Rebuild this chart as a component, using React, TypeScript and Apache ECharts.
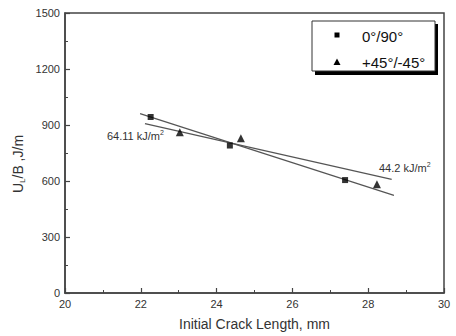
import React, { useEffect, useRef } from "react";
import * as echarts from "echarts";

const seriesNames = ["0°/90°", "+45°/-45°"];
const squareData: [number, number][] = [[22.26, 943], [24.35, 790], [27.39, 605]];
const triangleData: [number, number][] = [[23.03, 861], [24.64, 829], [28.23, 583]];
const squareFit: [number, number][] = [[21.98, 961], [28.68, 523]];
const triangleFit: [number, number][] = [[22.11, 907], [28.62, 609]];
const slopeLabels = ["64.11 kJ/m", "44.2 kJ/m"];
const xTitle = "Initial Crack Length, mm";

export default function App() {
  const ref = useRef<HTMLDivElement>(null);
  useEffect(() => {
    if (!ref.current) return;
    const chart = echarts.init(ref.current, undefined, { renderer: "svg" });
    const font = "'Liberation Sans'";
    const axisColor = "#444";
    const textColor = "#333";
    const common = {
      axisLine: { show: true, lineStyle: { color: axisColor, width: 1.5 } },
      axisTick: { show: true, inside: true, length: 5, lineStyle: { color: axisColor, width: 1.2 } },
      minorTick: { show: true, splitNumber: 2, length: 3, lineStyle: { color: axisColor, width: 1 } },
      splitLine: { show: false },
      axisLabel: { color: textColor, fontSize: 11, fontFamily: font, margin: 5, formatter: (v: number) => String(v) },
    };
    chart.setOption({
      animation: false,
      grid: { left: 65, right: 12, top: 13, bottom: 42, show: true, borderColor: axisColor, borderWidth: 1.5, backgroundColor: "transparent" },
      xAxis: {
        type: "value", min: 20, max: 30, interval: 2,
        ...common,
        name: xTitle, nameLocation: "middle", nameGap: 24,
        nameTextStyle: { color: textColor, fontSize: 14, fontFamily: font },
      },
      yAxis: {
        type: "value", min: 0, max: 1500, interval: 300,
        ...common,
      },
      series: [
        { name: seriesNames[0], type: "scatter", data: squareData, symbol: "rect", symbolSize: 6, itemStyle: { color: "#000" }, z: 5 },
        { name: seriesNames[1], type: "scatter", data: triangleData, symbol: "triangle", symbolSize: 8, itemStyle: { color: "#000" }, z: 5 },
        { type: "line", data: squareFit, symbol: "none", lineStyle: { color: "#555", width: 1.2 } },
        { type: "line", data: triangleFit, symbol: "none", lineStyle: { color: "#555", width: 1.2 } },
      ],
      graphic: [
        {
          type: "text", x: 18, y: 164, rotation: Math.PI / 2,
          style: {
            text: "{n|U}{s|L}{n|/B ,J/m}", align: "center", verticalAlign: "middle",
            rich: {
              n: { fontSize: 14, fontFamily: font, fill: textColor },
              s: { fontSize: 8, fontFamily: font, fill: textColor, padding: [8, 0, 0, 0] },
            },
          },
        },
        {
          type: "text", x: 107, y: 136,
          style: {
            text: `{n|${slopeLabels[0]}}{s|2}`, verticalAlign: "middle",
            rich: {
              n: { fontSize: 11, fontFamily: font, fill: textColor },
              s: { fontSize: 7, fontFamily: font, fill: textColor, padding: [0, 0, 7, 0] },
            },
          },
        },
        {
          type: "text", x: 379, y: 168,
          style: {
            text: `{n|${slopeLabels[1]}}{s|2}`, verticalAlign: "middle",
            rich: {
              n: { fontSize: 11, fontFamily: font, fill: textColor },
              s: { fontSize: 7, fontFamily: font, fill: textColor, padding: [0, 0, 7, 0] },
            },
          },
        },
        { type: "rect", shape: { x: 315, y: 24, width: 123, height: 51 }, style: { fill: "#000" }, z: 10 },
        { type: "rect", shape: { x: 312, y: 21, width: 123, height: 50 }, style: { fill: "#fff", stroke: "#333", lineWidth: 1 }, z: 11 },
        { type: "rect", shape: { x: 334.5, y: 32.5, width: 5, height: 5 }, style: { fill: "#000" }, z: 12 },
        { type: "polygon", shape: { points: [[337, 58.5], [333.5, 65], [340.5, 65]] }, style: { fill: "#000" }, z: 12 },
        { type: "text", x: 362, y: 36, z: 12, style: { text: seriesNames[0], fontSize: 15, fontFamily: font, fill: "#111", verticalAlign: "middle" } },
        { type: "text", x: 362, y: 62, z: 12, style: { text: seriesNames[1], fontSize: 15, fontFamily: font, fill: "#111", verticalAlign: "middle" } },
      ],
    });
    return () => chart.dispose();
  }, []);
  return <div ref={ref} style={{ position: "fixed", left: 0, top: 0, width: 456, height: 336, background: "#fff" }} />;
}
